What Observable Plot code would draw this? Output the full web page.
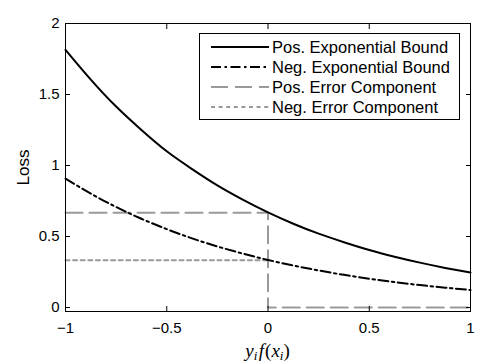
<!DOCTYPE html>
<html>
<head>
<meta charset="utf-8">
<script src="https://cdn.jsdelivr.net/npm/d3@7"></script>
<script src="https://cdn.jsdelivr.net/npm/@observablehq/plot@0.6"></script>
<style>
  html, body { margin: 0; padding: 0; background: #fff; }
  #wrap { position: relative; width: 485px; height: 363px; font-family: "Liberation Sans", Arial, sans-serif; }
  #legend { position: absolute; left: 199px; top: 33px; width: 261px; height: 87px; box-sizing: border-box;
    border: 1px solid #000; background: #fff; padding-top: 3px; }
  .row { display: flex; align-items: center; height: 20px; }
  .row svg { margin-left: 11px; margin-right: 3px; }
  .row span { font-size: 16.5px; color: #000; white-space: nowrap; }
</style>
</head>
<body>
<div id="wrap"></div>
<script>
// ---- data ----
const xVals   = [-1, -0.875, -0.75, -0.625, -0.5, -0.375, -0.25, -0.125, 0, 0.125, 0.25, 0.375, 0.5, 0.625, 0.75, 0.875, 1];
const posBound = [1.815, 1.605, 1.415, 1.25, 1.10, 0.975, 0.86, 0.76, 0.67, 0.59, 0.52, 0.46, 0.405, 0.358, 0.316, 0.279, 0.246];
const negBound = [0.908, 0.802, 0.708, 0.625, 0.552, 0.487, 0.43, 0.38, 0.335, 0.296, 0.261, 0.23, 0.203, 0.179, 0.158, 0.14, 0.123];
const posErrX = [-1, 0, 0, 1];
const posErrY = [0.667, 0.667, 0, 0];
const negErrX = [-1, 0];
const negErrY = [0.333, 0.333];
const xTicks = [-1, -0.5, 0, 0.5, 1];
const yTicks = [0, 0.5, 1, 1.5, 2];
const seriesNames = ["Pos. Exponential Bound", "Neg. Exponential Bound", "Pos. Error Component", "Neg. Error Component"];

const posData = xVals.map((x, i) => ({x, y: posBound[i]}));
const negData = xVals.map((x, i) => ({x, y: negBound[i]}));
const posErr = posErrX.map((x, i) => ({x, y: posErrY[i]}));
const negErr = negErrX.map((x, i) => ({x, y: negErrY[i]}));

const gray = "#999999";
const styles = [
  {stroke: "#000", strokeWidth: 2, dash: null},
  {stroke: "#000", strokeWidth: 2, dash: "10,3.5,2.5,3.5"},
  {stroke: gray, strokeWidth: 2, dash: "17,7"},
  {stroke: gray, strokeWidth: 2, dash: "4,3.6"}
];

const fmt = d => String(d).replace("-", "\u2212");
const tickOpts = {tickFormat: () => "", label: null, tickSize: 5, strokeWidth: 1};
const plot = Plot.plot({
  width: 485,
  height: 363,
  marginLeft: 65,
  marginRight: 15,
  marginTop: 23,
  marginBottom: 52,
  style: {fontFamily: "Liberation Sans, Arial, sans-serif", fontSize: "15px", color: "#000", background: "#fff"},
  x: {domain: [-1, 1]},
  y: {domain: [-0.028, 2]},
  marks: [
    Plot.line(negErr, {x: "x", y: "y", stroke: styles[3].stroke, strokeWidth: styles[3].strokeWidth, strokeDasharray: styles[3].dash}),
    Plot.line(posErr, {x: "x", y: "y", stroke: styles[2].stroke, strokeWidth: styles[2].strokeWidth, strokeDasharray: styles[2].dash}),
    Plot.line(negData, {x: "x", y: "y", curve: "natural", stroke: styles[1].stroke, strokeWidth: styles[1].strokeWidth, strokeDasharray: styles[1].dash}),
    Plot.line(posData, {x: "x", y: "y", curve: "natural", stroke: styles[0].stroke, strokeWidth: styles[0].strokeWidth}),
    // inward ticks on all four sides
    Plot.axisX(xTicks, {...tickOpts, anchor: "bottom", dy: -5}),
    Plot.axisX(xTicks, {...tickOpts, anchor: "top", dy: 5}),
    Plot.axisY(yTicks, {...tickOpts, anchor: "left", dx: 5}),
    Plot.axisY(yTicks, {...tickOpts, anchor: "right", dx: -5}),
    // tick labels
    Plot.axisX(xTicks, {anchor: "bottom", tickSize: 0, tickPadding: 11, label: null, tickFormat: fmt, fontSize: 15}),
    Plot.axisY(yTicks, {anchor: "left", tickSize: 0, tickPadding: 6, tickFormat: fmt, fontSize: 15, label: null}),
    Plot.axisY(yTicks, {anchor: "left", tickSize: 0, tickFormat: () => "", label: "Loss", labelAnchor: "center", labelArrow: "none", labelOffset: 49, fontSize: 17}),
    Plot.frame({stroke: "#000", strokeWidth: 1})
  ]
});

const wrap = document.getElementById("wrap");
wrap.appendChild(plot);

// x-axis label (math style, with subscripts)
const xs = plot.scale("x");
const svg = d3.select(plot);
const lab = svg.append("text")
  .attr("x", xs.apply(0))
  .attr("y", 357)
  .attr("text-anchor", "middle")
  .attr("font-family", "Liberation Serif, DejaVu Serif, serif")
  .attr("font-size", 19)
  .attr("fill", "#000");
lab.append("tspan").attr("font-style", "italic").text("y");
lab.append("tspan").attr("font-style", "italic").attr("font-size", 13).attr("dy", 3).text("i");
lab.append("tspan").attr("font-style", "italic").attr("dy", -3).attr("dx", 1.5).text("f");
lab.append("tspan").attr("dx", 1).text("(");
lab.append("tspan").attr("font-style", "italic").text("x");
lab.append("tspan").attr("font-style", "italic").attr("font-size", 13).attr("dy", 3).text("i");
lab.append("tspan").attr("dy", -3).text(")");

// legend box
const legend = document.createElement("div");
legend.id = "legend";
seriesNames.forEach((name, i) => {
  const row = document.createElement("div");
  row.className = "row";
  const s = styles[i];
  row.innerHTML = `<svg width="58" height="10"><line x1="0" y1="5" x2="58" y2="5" stroke="${s.stroke}" stroke-width="${s.strokeWidth}" ${s.dash ? `stroke-dasharray="${s.dash}"` : ""}/></svg><span>${name}</span>`;
  legend.appendChild(row);
});
wrap.appendChild(legend);
</script>
</body>
</html>
